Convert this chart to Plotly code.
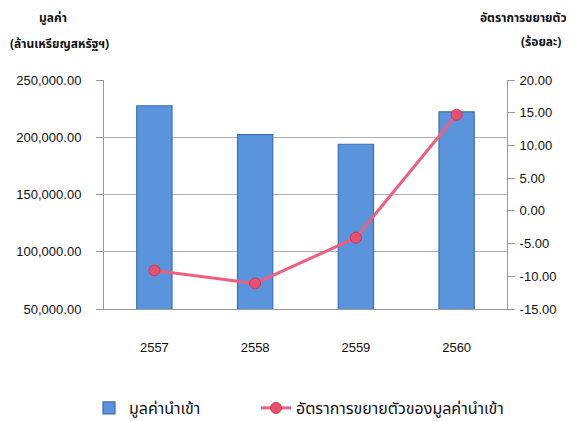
import plotly.graph_objects as go

years = ["2557", "2558", "2559", "2560"]
import_value = [227500, 202300, 193900, 222200]
growth_rate = [-9.1, -11.1, -4.1, 14.7]

left_ticks = [50000, 100000, 150000, 200000, 250000]
right_ticks = [-15, -10, -5, 0, 5, 10, 15, 20]

font_thai = "Tahoma, Noto Sans Thai, Liberation Sans, sans-serif"

# page body adds an 8px margin, so the figure is drawn 8px smaller and shifted
W, H = 566, 413
L, R, T, B = 96, 67, 72, 112
PW, PH = W - L - R, H - T - B

fig = go.Figure()
fig.add_trace(go.Bar(
    x=years, y=import_value, name="มูลค่านำเข้า",
    marker=dict(color="#5A94DC", line=dict(color="#3D6FB0", width=1.2)),
    width=0.35, yaxis="y", legend="legend",
))
fig.add_trace(go.Scatter(
    x=years, y=growth_rate, name="อัตราการขยายตัวของมูลค่านำเข้า",
    mode="lines+markers",
    line=dict(color="#EE5E7E", width=3),
    marker=dict(color="#E8506F", size=11, line=dict(color="#C83A58", width=1)),
    yaxis="y2", legend="legend2",
))

leg_common = dict(orientation="h", xref="container", yref="container",
                  y=1 - 400 / H, xanchor="left", yanchor="middle",
                  font=dict(family=font_thai, size=16, color="#111"),
                  itemwidth=30, bgcolor="rgba(0,0,0,0)")

fig.update_layout(
    width=W, height=H,
    margin=dict(l=L, r=R, t=T, b=B, autoexpand=False),
    paper_bgcolor="white", plot_bgcolor="white",
    font=dict(family="Liberation Sans, Arial, sans-serif", size=13, color="#222"),
    showlegend=True,
    legend=dict(x=81 / W, **leg_common),
    legend2=dict(x=248 / W, **leg_common),
    xaxis=dict(showgrid=False, showline=True, linecolor="#9a9a9a", ticks="",
               tickfont=dict(size=13, color="#111"), ticklabelstandoff=26),
    yaxis=dict(range=[50000, 250000], tickvals=left_ticks,
               ticktext=[f"{v:,.2f}" for v in left_ticks],
               showgrid=True, gridcolor="#b0b0b0", showline=True, linecolor="#9a9a9a",
               ticks="outside", ticklen=7, tickcolor="#9a9a9a", zeroline=False,
               ticklabelstandoff=12, tickfont=dict(size=13, color="#111")),
    yaxis2=dict(range=[-15, 20], tickvals=right_ticks,
                ticktext=[f"{v:.2f}" for v in right_ticks],
                overlaying="y", side="right", showgrid=False, showline=True,
                linecolor="#9a9a9a", ticks="outside", ticklen=7, tickcolor="#9a9a9a",
                zeroline=False, ticklabelstandoff=2, tickfont=dict(size=13, color="#111")),
)

def px(xp): return (xp - L) / PW
def py(yp): return (H - B - yp) / PH

for txt, xp, yp, anchor in [("<b>มูลค่า</b>", 29, 10, "left"),
                            ("<b>(ล้านเหรียญสหรัฐฯ)</b>", 0, 36, "left"),
                            ("<b>อัตราการขยายตัว</b>", 561, 10, "right"),
                            ("<b>(ร้อยละ)</b>", 511, 34, "left")]:
    fig.add_annotation(text=txt, x=px(xp), y=py(yp), xref="paper", yref="paper",
                       showarrow=False, xanchor=anchor, yanchor="middle",
                       font=dict(family=font_thai, size=12, color="#111"))

fig.write_html("out.html")
